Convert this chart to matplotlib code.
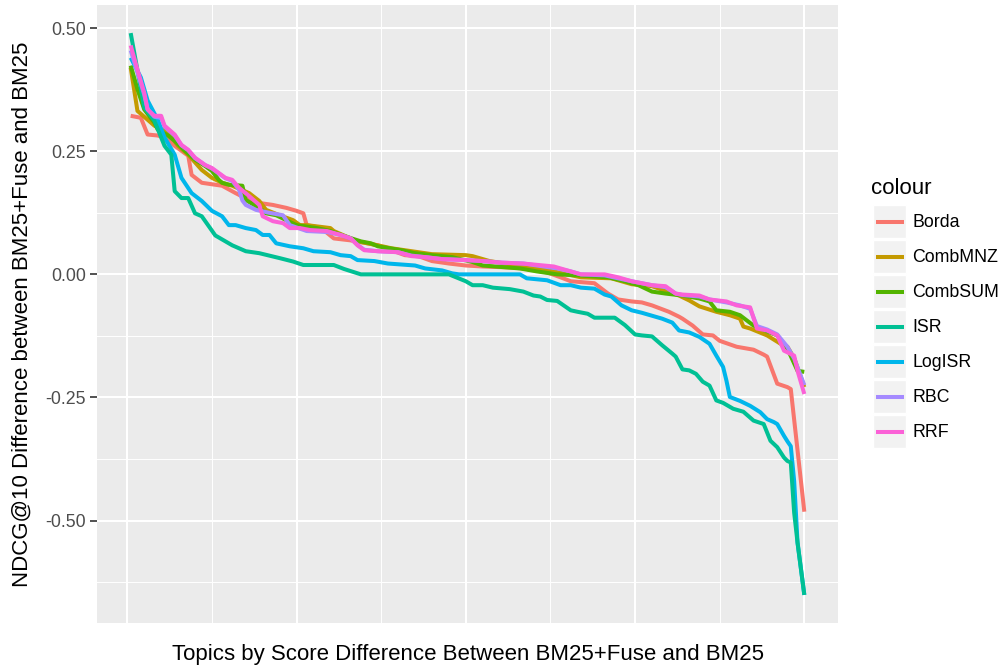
import numpy as np
import matplotlib
matplotlib.use('Agg')
import matplotlib.pyplot as plt
from matplotlib.patches import Rectangle

plt.rcParams['font.family'] = ['Liberation Sans', 'DejaVu Sans']

# Data (topic rank, NDCG@10 difference)
borda_x = [1, 4, 6, 9, 11, 14, 18, 19, 22, 26, 28, 32, 36, 39, 43, 47, 50, 52, 53, 56,
           58, 61, 66, 71, 74, 78, 82, 86, 90, 95, 100, 105, 113, 117, 124, 128, 131, 138, 142, 145,
           149, 152, 155, 160, 163, 164, 167, 170, 173, 175, 180, 185, 188, 189, 192, 195, 196, 200]
borda_y = [0.322, 0.318, 0.284, 0.282, 0.278, 0.261, 0.241, 0.202, 0.186, 0.182,
           0.180, 0.165, 0.151, 0.145, 0.141, 0.135, 0.129, 0.124, 0.100, 0.096,
           0.090, 0.073, 0.069, 0.063, 0.059, 0.049, 0.039, 0.037, 0.027, 0.022,
           0.018, 0.016, 0.014, 0.012, 0.004, -0.006, -0.014, -0.018, -0.039, -0.051,
           -0.055, -0.057, -0.063, -0.076, -0.086, -0.090, -0.104, -0.122, -0.124, -0.135,
           -0.147, -0.153, -0.163, -0.167, -0.222, -0.229, -0.233, -0.482]

combmnz_x = [1, 3, 8, 12, 15, 18, 22, 25, 28, 31, 36, 39, 41, 45, 49, 51, 53, 60, 61, 68,
             74, 78, 84, 90, 100, 102, 107, 117, 126, 134, 143, 149, 155, 163, 166, 169, 174, 178, 181, 182,
             184, 189, 193, 195, 197, 200]
combmnz_y = [0.42, 0.332, 0.302, 0.288, 0.261, 0.243, 0.212, 0.196, 0.186, 0.180,
             0.165, 0.149, 0.131, 0.120, 0.110, 0.100, 0.100, 0.094, 0.088, 0.067,
             0.059, 0.053, 0.047, 0.041, 0.039, 0.037, 0.027, 0.016, 0.006, -0.006,
             -0.008, -0.020, -0.024, -0.043, -0.053, -0.065, -0.076, -0.083, -0.090, -0.106,
             -0.110, -0.124, -0.141, -0.147, -0.170, -0.229]

combsum_x = [1, 3, 5, 8, 9, 12, 14, 17, 20, 23, 25, 27, 28, 30, 34, 35, 39, 41, 44, 47,
             50, 56, 60, 64, 69, 72, 74, 81, 85, 90, 96, 102, 105, 116, 121, 127, 133, 142, 147, 151,
             155, 159, 164, 169, 172, 174, 178, 181, 185, 189, 192, 195, 198, 200]
combsum_y = [0.424, 0.376, 0.335, 0.308, 0.294, 0.282, 0.271, 0.251, 0.233, 0.220,
             0.210, 0.192, 0.186, 0.182, 0.180, 0.151, 0.135, 0.124, 0.120, 0.110,
             0.100, 0.094, 0.088, 0.078, 0.067, 0.063, 0.057, 0.049, 0.043, 0.039,
             0.035, 0.025, 0.018, 0.012, 0.006, 0.0, -0.002, -0.006, -0.014, -0.022,
             -0.035, -0.039, -0.043, -0.049, -0.055, -0.073, -0.076, -0.083, -0.104, -0.116,
             -0.124, -0.151, -0.196, -0.198]

isr_x = [1, 5, 8, 10, 11, 13, 14, 16, 18, 20, 22, 26, 31, 35, 39, 45, 49, 52, 61, 64,
         69, 95, 100, 102, 105, 108, 113, 117, 120, 122, 124, 127, 131, 133, 136, 138, 144, 147, 150, 152,
         155, 158, 161, 162, 164, 166, 168, 170, 172, 174, 176, 179, 182, 185, 188, 190, 192, 194, 195, 196,
         197, 198, 200]
isr_y = [0.49, 0.339, 0.312, 0.278, 0.261, 0.243, 0.169, 0.155, 0.155, 0.124,
         0.118, 0.079, 0.059, 0.047, 0.043, 0.033, 0.026, 0.019, 0.019, 0.011,
         0.0, 0.0, -0.014, -0.022, -0.022, -0.027, -0.030, -0.035, -0.043, -0.045,
         -0.052, -0.054, -0.073, -0.076, -0.080, -0.088, -0.088, -0.103, -0.122, -0.124,
         -0.126, -0.144, -0.161, -0.167, -0.193, -0.195, -0.202, -0.218, -0.226, -0.256,
         -0.261, -0.273, -0.279, -0.297, -0.304, -0.338, -0.351, -0.372, -0.379, -0.382,
         -0.484, -0.545, -0.651]

logisr_x = [1, 4, 6, 9, 11, 14, 16, 19, 22, 25, 28, 30, 32, 35, 38, 40, 42, 44, 48, 52,
            55, 60, 63, 66, 68, 73, 77, 85, 88, 93, 96, 98, 116, 118, 124, 128, 131, 134, 138, 141,
            143, 146, 149, 152, 155, 158, 161, 163, 166, 169, 172, 174, 176, 177, 178, 181, 184, 187, 189, 191,
            192, 194, 195, 196, 197, 198, 200]
logisr_y = [0.44, 0.40, 0.353, 0.314, 0.278, 0.243, 0.196, 0.165, 0.149, 0.129,
            0.118, 0.100, 0.100, 0.094, 0.090, 0.080, 0.080, 0.063, 0.057, 0.053,
            0.047, 0.045, 0.039, 0.037, 0.029, 0.027, 0.022, 0.018, 0.012, 0.008,
            0.002, 0.0, 0.0, -0.008, -0.012, -0.022, -0.022, -0.027, -0.029, -0.041,
            -0.045, -0.063, -0.073, -0.078, -0.084, -0.090, -0.098, -0.114, -0.118, -0.127,
            -0.141, -0.165, -0.188, -0.216, -0.249, -0.257, -0.267, -0.280, -0.294, -0.300,
            -0.304, -0.328, -0.339, -0.349, -0.42, -0.545, -0.651]

rbc_x = [1, 3, 5, 6, 8, 10, 11, 14, 16, 18, 20, 23, 25, 27, 29, 31, 33, 34, 35, 38,
         42, 46, 48, 53, 59, 63, 66, 68, 70, 74, 80, 84, 88, 93, 100, 105, 110, 117, 127, 131,
         134, 141, 145, 149, 155, 159, 162, 164, 169, 172, 177, 181, 184, 186, 189, 192, 195, 197, 200]
rbc_y = [0.455, 0.41, 0.365, 0.335, 0.32, 0.318, 0.30, 0.282, 0.262, 0.252,
         0.236, 0.222, 0.215, 0.205, 0.195, 0.190, 0.172, 0.150, 0.141, 0.131,
         0.125, 0.120, 0.100, 0.088, 0.086, 0.080, 0.073, 0.060, 0.050, 0.047,
         0.045, 0.038, 0.035, 0.031, 0.029, 0.027, 0.024, 0.022, 0.012, 0.006,
         0.0, -0.002, -0.008, -0.014, -0.022, -0.026, -0.039, -0.042, -0.045, -0.051,
         -0.057, -0.063, -0.070, -0.105, -0.112, -0.122, -0.147, -0.171, -0.225]

rrf_x = [1, 3, 5, 6, 8, 10, 11, 14, 16, 18, 20, 23, 25, 27, 29, 31, 33, 36, 39, 40,
         43, 46, 48, 51, 54, 59, 63, 66, 68, 70, 74, 80, 84, 88, 93, 100, 105, 110, 117, 126,
         131, 134, 141, 145, 149, 155, 159, 162, 164, 169, 172, 177, 180, 184, 186, 189, 192, 194, 197, 198,
         200]
rrf_y = [0.465, 0.416, 0.369, 0.335, 0.322, 0.322, 0.302, 0.284, 0.263, 0.253,
         0.237, 0.222, 0.216, 0.206, 0.196, 0.192, 0.176, 0.159, 0.141, 0.118,
         0.108, 0.104, 0.094, 0.094, 0.090, 0.088, 0.080, 0.073, 0.059, 0.049,
         0.047, 0.045, 0.037, 0.035, 0.031, 0.029, 0.027, 0.024, 0.022, 0.016,
         0.006, 0.0, 0.0, -0.006, -0.014, -0.022, -0.024, -0.039, -0.041, -0.043,
         -0.051, -0.055, -0.063, -0.067, -0.110, -0.114, -0.124, -0.155, -0.165, -0.196,
         -0.243]

names = ['Borda', 'CombMNZ', 'CombSUM', 'ISR', 'LogISR', 'RBC', 'RRF']
colors = ['#F8766D', '#C49A00', '#53B400', '#00C094', '#00B6EB', '#A58AFF', '#FB61D7']
series = {'Borda': (borda_x, borda_y), 'CombMNZ': (combmnz_x, combmnz_y),
          'CombSUM': (combsum_x, combsum_y), 'ISR': (isr_x, isr_y),
          'LogISR': (logisr_x, logisr_y), 'RBC': (rbc_x, rbc_y), 'RRF': (rrf_x, rrf_y)}
# drawing order (ISR ends up on top of LogISR)
draw_order = ['Borda', 'CombMNZ', 'CombSUM', 'LogISR', 'ISR', 'RBC', 'RRF']

fig = plt.figure(figsize=(10.01, 6.66), dpi=100)
ax = fig.add_axes([97 / 1001, 1 - 623 / 666, (838 - 97) / 1001, (623 - 5) / 666])
ax.set_facecolor('#EBEBEB')

for name in draw_order:
    xs, ys = series[name]
    ax.plot(xs, ys, color=colors[names.index(name)], lw=2.9, solid_capstyle='butt',
            solid_joinstyle='round')

# ggplot-like expansion
allx = np.concatenate([series[n][0] for n in names])
ally = np.concatenate([series[n][1] for n in names])
dx = (allx.max() - allx.min()) * 0.05
dy = (ally.max() - ally.min()) * 0.05
ax.set_xlim(allx.min() - dx, allx.max() + dx)
ax.set_ylim(ally.min() - dy, ally.max() + dy)

ax.set_xticks([0, 50, 100, 150, 200])
ax.set_xticks([25, 75, 125, 175], minor=True)
ax.set_yticks([-0.5, -0.25, 0, 0.25, 0.5])
ax.set_yticks([-0.625, -0.375, -0.125, 0.125, 0.375], minor=True)
ax.set_yticklabels(['-0.50', '-0.25', '0.00', '0.25', '0.50'])
ax.grid(which='major', color='white', lw=1.5)
ax.grid(which='minor', color='white', lw=0.7)
ax.set_axisbelow(True)
for s in ax.spines.values():
    s.set_visible(False)
ax.tick_params(axis='x', which='both', length=0, labelbottom=False)
ax.tick_params(axis='y', which='major', length=5, width=1.2, color='#333333',
               labelcolor='#4D4D4D', labelsize=12.8, pad=3)
ax.tick_params(axis='y', which='minor', length=0)

ax.set_xlabel('Topics by Score Difference Between BM25+Fuse and BM25', fontsize=16,
              labelpad=15)
ax.set_ylabel('NDCG@10 Difference between BM25+Fuse and BM25', fontsize=16, labelpad=9)

# legend drawn in figure pixel coordinates
lg = fig.add_axes([0, 0, 1, 1], facecolor='none')
lg.set_xlim(0, 1001)
lg.set_ylim(666, 0)
lg.axis('off')
lg.text(871, 188, 'colour', fontsize=16, va='center', ha='left')
for i, name in enumerate(names):
    y0 = 205 + 35 * i
    lg.add_patch(Rectangle((873, y0), 33, 33, facecolor='#F2F2F2', edgecolor='white', lw=1))
    lg.plot([876, 904], [y0 + 17, y0 + 17], color=colors[i], lw=2.9, solid_capstyle='butt')
    lg.text(912, y0 + 17.5, name, fontsize=12.8, va='center', ha='left')

fig.savefig('out.png', dpi=100)
